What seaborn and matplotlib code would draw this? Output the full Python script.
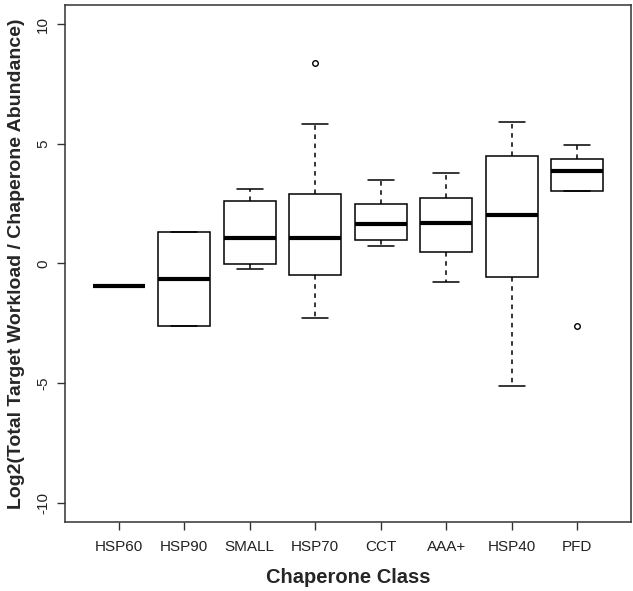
import numpy as np
import pandas as pd
import matplotlib
matplotlib.use("Agg")
import matplotlib.pyplot as plt
import seaborn as sns

# Chaperone classes in plot order
classes = ["HSP60", "HSP90", "SMALL", "HSP70", "CCT", "AAA+", "HSP40", "PFD"]

# values per class (whisker ends, hinges, median, outliers)
hsp60 = [-0.92, -0.92, -0.92, -0.92, -0.92]
hsp90 = [-2.63, -2.63, -0.63, 1.33, 1.33]
small = [-0.21, -0.04, 1.08, 2.63, 3.13]
hsp70 = [-2.29, -1.0, -0.46, 0.5, 1.08, 2.0, 2.92, 5.83, 8.38]
cct = [0.75, 1.0, 1.67, 2.5, 3.5]
aaa = [-0.79, 0.46, 1.71, 2.75, 3.79]
hsp40 = [-5.13, -0.58, 2.04, 4.5, 5.92]
pfd = [-2.63, 3.04, 3.04, 3.5, 3.88, 4.1, 4.38, 4.96, 4.96]

values = [hsp60, hsp90, small, hsp70, cct, aaa, hsp40, pfd]
df = pd.DataFrame({
    "cls": [c for c, v in zip(classes, values) for _ in v],
    "val": [x for v in values for x in v],
})

sns.set_theme(style="ticks")
plt.rcParams["font.family"] = ["Liberation Sans", "DejaVu Sans"]

fig = plt.figure(figsize=(6.33, 5.91), dpi=100)
ax = fig.add_axes([0.1027, 0.1168, 0.894, 0.8747])

sns.boxplot(data=df, x="cls", y="val", order=classes, ax=ax,
            width=0.8, color="white", linecolor="black", linewidth=1.1,
            whiskerprops=dict(linestyle=(0, (3, 3))),
            medianprops=dict(linewidth=3, color="black"),
            flierprops=dict(marker="o", markerfacecolor="none",
                            markeredgecolor="black", markersize=4,
                            markeredgewidth=1),
            saturation=1)

ax.set_xlim(-0.82, 7.82)
ax.set_ylim(-10.8, 10.8)
ax.set_yticks([-10, -5, 0, 5, 10])
ax.set_yticklabels(["-10", "-5", "0", "5", "10"], rotation=90, va="center")
ax.tick_params(axis="both", length=5.8, width=1, color="#333333",
               labelsize=11, labelcolor="#222222")
ax.tick_params(axis="y", pad=5)
ax.tick_params(axis="x", pad=7)
for s in ax.spines.values():
    s.set_visible(True)
    s.set_color("#333333")
    s.set_linewidth(1.1)

ax.set_xlabel("Chaperone Class", fontsize=14.5, fontweight="bold", labelpad=10)
ax.set_ylabel("Log2(Total Target Workload / Chaperone Abundance)",
              fontsize=14, fontweight="bold", labelpad=8)

fig.savefig("out.png", dpi=100)
